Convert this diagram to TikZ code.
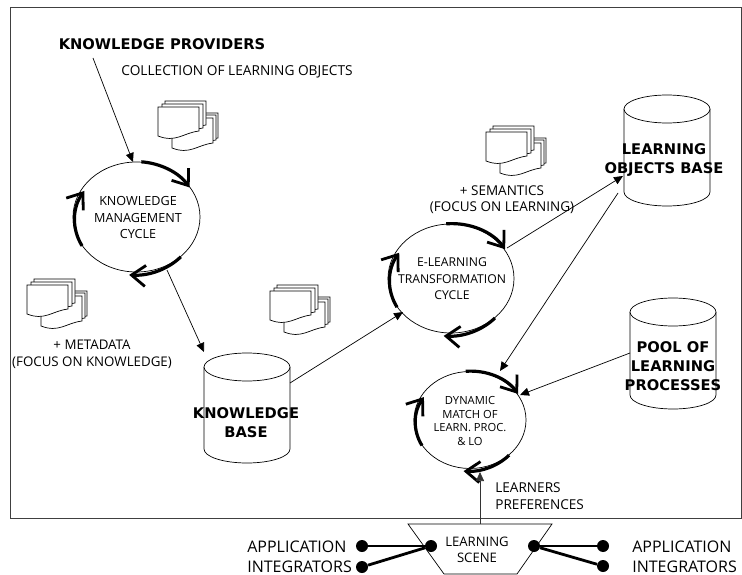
\documentclass[tikz,border=0pt]{standalone}
\usepackage{fontspec}
\setmainfont{Open Sans}[BoldFont=DejaVu Sans Bold]
\usetikzlibrary{arrows.meta, shapes.geometric}

\tikzset{
    plain text/.style={font=\fontsize{13.2}{16.5}\selectfont, align=center, inner sep=0pt},
    bold text/.style={font=\fontsize{14.7}{19}\selectfont\bfseries, align=center, inner sep=0pt},
    side text/.style={font=\fontsize{16}{20}\selectfont, align=left, inner sep=0pt, anchor=west},
    flow/.style={-{Triangle[length=9pt, width=8pt]}},
    cycle arc/.style={line width=3.2pt, -{Straight Barb[length=14pt, width=21pt, line width=2.8pt]}},
    link/.style={line width=2.8pt},
    dot/.style={circle, fill=black, inner sep=0pt, minimum size=12pt},
    round/.style={draw, ellipse, inner sep=0pt},
}

% one stack of pages, at the top left corner (#1,#2)
\newcommand{\pagestack}[2]{
    \begin{scope}[shift={(#1,#2)}]
        \foreach \dx/\dy in {19/12, 17/14, 14/17}
            \draw [fill=white] (\dx,\dy) -- (\dx+41,\dy) -- (\dx+41,\dy+25) .. controls (\dx+25,\dy+27) and (\dx+18,\dy+37) .. (\dx,\dy+30) -- cycle;
        \foreach \dx/\dy in {7/0, 4/3, 0/6}
            \draw [fill=white] (\dx,\dy) -- (\dx+41,\dy) -- (\dx+41,\dy+24) .. controls (\dx+25,\dy+26) and (\dx+18,\dy+36) .. (\dx,\dy+29) -- cycle;
    \end{scope}
}

% a cylinder: centre x, top y, bottom y, half width
\newcommand{\barrel}[4]{
    \draw [fill=white] (#1-#4,#2) -- (#1-#4,#3) arc [start angle=180, end angle=360, x radius=#4pt, y radius=14pt] -- (#1+#4,#2);
    \draw [fill=white] (#1,#2) ellipse [x radius=#4pt, y radius=14pt];
}

\begin{document}
\begin{tikzpicture}[x=1pt, y=-1pt, line width=0.7pt]
    \useasboundingbox (0,0) rectangle (742,575);

    \draw [line width=1pt, draw=black!75] (10,8) rectangle (741,518);

    \barrel{247}{367}{449}{43}
    \barrel{667}{109}{192}{43}
    \barrel{673}{312}{395}{43}

    \pagestack{158}{101}
    \pagestack{27}{279}
    \pagestack{270}{285}
    \pagestack{486}{126}

    \node [round, minimum width=127pt, minimum height=110pt] (manage) at (136.5,217) {};
    \node [round, minimum width=126pt, minimum height=109pt] (transform) at (451,278.5) {};
    \node [round, minimum width=112pt, minimum height=97pt] (match) at (470,420) {};

    \node [bold text] (providers) at (162,44) {KNOWLEDGE PROVIDERS};
    \node [plain text, font=\fontsize{13.7}{16}\selectfont] (collection) at (237,72) {COLLECTION OF LEARNING OBJECTS};
    \node [plain text, font=\fontsize{12.6}{16.5}\selectfont] (managelabel) at (138,217.5) {KNOWLEDGE\\MANAGEMENT\\CYCLE};
    \node [plain text, font=\fontsize{13.3}{17}\selectfont] (metadata) at (92,354) {+ METADATA\\(FOCUS ON KNOWLEDGE)};
    \node [plain text, font=\fontsize{13.5}{16}\selectfont] (semantics) at (502,200) {+ SEMANTICS\\(FOCUS ON LEARNING)};
    \node [plain text, font=\fontsize{12.2}{16.5}\selectfont] (transformlabel) at (452,279) {E-LEARNING\\TRANSFORMATION\\CYCLE};
    \node [plain text, font=\fontsize{11.2}{13.5}\selectfont] (matchlabel) at (470,421) {DYNAMIC\\MATCH OF\\LEARN. PROC.\\\& LO};
    \node [bold text] (kb) at (246,422.5) {KNOWLEDGE\\BASE};
    \node [bold text] (lob) at (664,160.5) {LEARNING\\OBJECTS BASE};
    \node [bold text] (pool) at (673,366) {POOL OF\\LEARNING\\PROCESSES};
    \node [plain text, align=left, anchor=west, font=\fontsize{13.6}{17}\selectfont] (preferences) at (495,496.5) {LEARNERS\\PREFERENCES};

    \draw [fill=white] (408,524) -- (552,524) -- (517,574) -- (444,574) -- cycle;
    \node [plain text, font=\fontsize{13.1}{16}\selectfont] (scene) at (477,550) {LEARNING\\SCENE};

    \node [side text] (appleft) at (247,556.5) {APPLICATION\\INTEGRATORS};
    \node [side text] (appright) at (632,556.5) {APPLICATION\\INTEGRATORS};

    \node [dot] (leftjoin) at (431,546) {};
    \node [dot] (lefta) at (362,546) {};
    \node [dot] (leftb) at (362,567) {};
    \node [dot] (rightjoin) at (534,546) {};
    \node [dot] (righta) at (603,546) {};
    \node [dot] (rightb) at (603,566) {};
    \draw [link] (lefta) -- (leftjoin);
    \draw [link] (leftb) -- (leftjoin);
    \draw [link] (righta) -- (rightjoin);
    \draw [link] (rightb) -- (rightjoin);

    % thick arcs on the three circles
    \draw [cycle arc] (manage.85) arc [start angle=85, end angle=32, x radius=63.5pt, y radius=55pt];
    \draw [cycle arc] (manage.208) arc [start angle=208, end angle=148, x radius=63.5pt, y radius=55pt];
    \draw [cycle arc] (manage.318) arc [start angle=318, end angle=266, x radius=63.5pt, y radius=55pt];

    \draw [cycle arc] (transform.95) arc [start angle=95, end angle=32, x radius=63pt, y radius=54.5pt];
    \draw [cycle arc] (transform.208) arc [start angle=208, end angle=148, x radius=63pt, y radius=54.5pt];
    \draw [cycle arc] (transform.318) arc [start angle=318, end angle=266, x radius=63pt, y radius=54.5pt];

    \draw [cycle arc] (match.95) arc [start angle=95, end angle=32, x radius=56pt, y radius=48.5pt];
    \draw [cycle arc] (match.208) arc [start angle=208, end angle=148, x radius=56pt, y radius=48.5pt];
    \draw [cycle arc] (match.318) arc [start angle=318, end angle=266, x radius=56pt, y radius=48.5pt];

    \coordinate (providersfoot) at (93,58);
    \coordinate (lobin) at (623,176);
    \coordinate (lobout) at (618,193);
    \coordinate (poolout) at (630,353);
    \coordinate (kbtop) at (204,352);
    \coordinate (matchtop) at (500,371);
    \coordinate (kbout) at (290,383);
    \coordinate (sceneout) at (480,524);
    \draw [flow] (providersfoot) -- (133,162);
    \draw [flow] (167,270) -- (kbtop);
    \draw [flow] (kbout) -- (403,312);
    \draw [flow] (507,248) -- (lobin);
    \draw [flow] (lobout) -- (matchtop);
    \draw [flow] (poolout) -- (520,395);
    \draw [flow, draw=black!80] (sceneout) -- (480,472);
\end{tikzpicture}
\end{document}
